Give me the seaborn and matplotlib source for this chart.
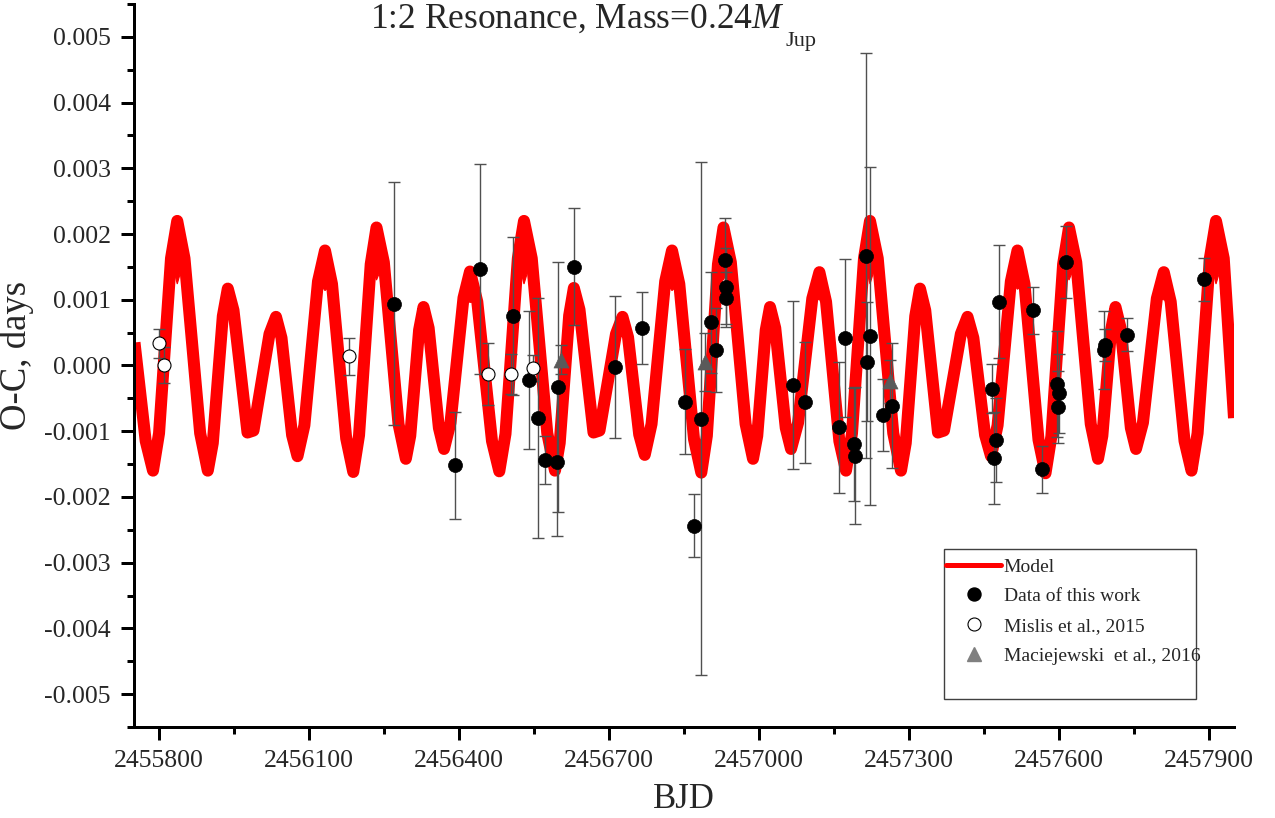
import matplotlib
matplotlib.use("Agg")
import matplotlib.pyplot as plt
import seaborn as sns
import pandas as pd
from matplotlib.lines import Line2D
from matplotlib.patches import Rectangle
from matplotlib.ticker import MultipleLocator, FuncFormatter

# ---- TTV model (BJD, O-C in days) ----
model_bjd = [
    2455751, 2455773.4, 2455788, 2455800.1, 2455824, 2455836.5, 2455851,
    2455882.3, 2455897.6, 2455907.6, 2455927.6, 2455937.6, 2455949,
    2455977, 2455989, 2456021, 2456034, 2456045,
    2456066.2, 2456077, 2456090.8, 2456118, 2456132, 2456146,
    2456174.4, 2456188.5, 2456200.1, 2456223.4, 2456235, 2456249.7,
    2456279, 2456293.7, 2456302.5, 2456320.2, 2456329, 2456339.3,
    2456359.8, 2456370, 2456383, 2456409, 2456422, 2456436.6,
    2456466, 2456480.6, 2456493, 2456517.7, 2456530, 2456545.5,
    2456576.5, 2456592, 2456601.4, 2456620.3, 2456629.7, 2456641,
    2456669, 2456681, 2456714, 2456727, 2456738.1,
    2456760.4, 2456771.5, 2456785.1, 2456812.4, 2456826, 2456840.6,
    2456870, 2456884.6, 2456895.7, 2456917.9, 2456929, 2456943.7,
    2456973.2, 2456988, 2456996.5, 2457013.5, 2457022, 2457032.5,
    2457053.5, 2457064, 2457078.2, 2457106.6, 2457120.8, 2457134.1,
    2457160.7, 2457174, 2457186, 2457210, 2457222, 2457237.5,
    2457268.5, 2457284, 2457293.5, 2457312.5, 2457322, 2457332.5,
    2457358, 2457370, 2457403.7, 2457417, 2457428.7,
    2457452.2, 2457464, 2457477.2, 2457503.7, 2457517, 2457531,
    2457559, 2457573, 2457584.7, 2457608.2, 2457620, 2457634.5,
    2457663.5, 2457678, 2457686.7, 2457704.2, 2457713, 2457723.2,
    2457743.7, 2457754, 2457767.9, 2457795.7, 2457809.6, 2457823.4,
    2457851.1, 2457865, 2457877.2, 2457901.7, 2457914, 2457929.5,
    2457950]
model_oc = [
    0.00035, -0.00115, -0.00160, -0.00103, 0.00163, 0.00220, 0.00163,
    -0.00103, -0.00160, -0.00118, 0.00075, 0.00117, 0.00084,
    -0.00102, -0.00099, 0.00048, 0.00074, 0.00042,
    -0.00106, -0.00138, -0.00091, 0.00128, 0.00175, 0.00124,
    -0.00111, -0.00162, -0.00106, 0.00154, 0.00210, 0.00157,
    -0.00089, -0.00142, -0.00107, 0.00054, 0.00089, 0.00057,
    -0.00095, -0.00127, -0.00087, 0.00103, 0.00143, 0.00097,
    -0.00115, -0.00161, -0.00104, 0.00163, 0.00220, 0.00163,
    -0.00103, -0.00160, -0.00118, 0.00076, 0.00118, 0.00085,
    -0.00102, -0.00099, 0.00048, 0.00074, 0.00043,
    -0.00105, -0.00136, -0.00089, 0.00128, 0.00175, 0.00124,
    -0.00112, -0.00163, -0.00107, 0.00154, 0.00210, 0.00157,
    -0.00089, -0.00142, -0.00107, 0.00054, 0.00089, 0.00057,
    -0.00095, -0.00127, -0.00087, 0.00102, 0.00142, 0.00097,
    -0.00115, -0.00160, -0.00103, 0.00163, 0.00220, 0.00163,
    -0.00103, -0.00160, -0.00118, 0.00075, 0.00117, 0.00084,
    -0.00102, -0.00099, 0.00048, 0.00074, 0.00042,
    -0.00106, -0.00138, -0.00091, 0.00128, 0.00175, 0.00124,
    -0.00113, -0.00164, -0.00108, 0.00154, 0.00210, 0.00157,
    -0.00089, -0.00142, -0.00107, 0.00054, 0.00089, 0.00057,
    -0.00095, -0.00127, -0.00087, 0.00102, 0.00142, 0.00097,
    -0.00115, -0.00160, -0.00103, 0.00163, 0.00220, 0.00163,
    -0.00080]

# inner edge of the model band under the high maxima (BJD of maximum, O-C)
notch_bjd = [2455836.5, 2456132, 2456235, 2456422, 2456530, 2456826,
             2456929, 2457120.8, 2457222, 2457517, 2457620, 2457809.6,
             2457914]
notch_oc = [0.00124, 0.00114, 0.00130, 0.00096, 0.00124, 0.00114,
            0.00130, 0.00100, 0.00124, 0.00116, 0.00130, 0.00100,
            0.00124]

# ---- Data of this work ----
own_bjd = [2456269, 2456391, 2456442, 2456508, 2456540, 2456558, 2456572,
           2456596, 2456598, 2456630, 2456712, 2456765, 2456851, 2456869,
           2456883, 2456903, 2456913, 2456931, 2456933, 2456934, 2457068,
           2457091, 2457159, 2457171, 2457189, 2457191, 2457213, 2457216,
           2457221, 2457247, 2457266, 2457465, 2457469, 2457474, 2457479,
           2457548, 2457565, 2457595, 2457597, 2457600, 2457613, 2457690,
           2457692, 2457735, 2457889]
own_oc = [0.00094, -0.00152, 0.00147, 0.00075, -0.00022, -0.00080, -0.00144,
          -0.00147, -0.00033, 0.00150, -0.00002, 0.00057, -0.00055, -0.00244,
          -0.00081, 0.00066, 0.00023, 0.00161, 0.00119, 0.00103, -0.00030,
          -0.00056, -0.00094, 0.00042, -0.00120, -0.00137, 0.00167, 0.00006,
          0.00045, -0.00075, -0.00061, -0.00035, -0.00140, -0.00113, 0.00097,
          0.00084, -0.00158, -0.00028, -0.00063, -0.00042, 0.00157, 0.00024,
          0.00031, 0.00047, 0.00131]
own_err = [0.00185, 0.00081, 0.00160, 0.00120, 0.00105, 0.00183, 0.00036,
           0.00113, 0.00190, 0.00089, 0.00108, 0.00055, 0.00080, 0.00048,
           0.00390, 0.00077, 0.00064, 0.00063, 0.00060, 0.00040, 0.00128,
           0.00092, 0.00100, 0.00120, 0.00086, 0.00104, 0.00308, 0.00090,
           0.00257, 0.00055, 0.00095, 0.00037, 0.00070, 0.00064, 0.00086,
           0.00036, 0.00036, 0.00081, 0.00055, 0.00060, 0.00055, 0.00059,
           0.00024, 0.00025, 0.00033]

# ---- Mislis et al., 2015 ----
mislis_bjd = [2455799, 2455809, 2456180, 2456457, 2456504, 2456548]
mislis_oc = [0.00034, 0.00001, 0.00014, -0.00013, -0.00013, -0.00004]
mislis_err = [0.00022, 0.00027, 0.00028, 0.00047, 0.00030, 0.00020]

# ---- Maciejewski et al., 2016 ----
mac_bjd = [2456604, 2456891, 2457261]
mac_oc = [0.00009, 0.00005, -0.00024]
mac_err = [0.00022, 0.00044, 0.00033]

x_ticks_step = 300
title_main = r"1:2 Resonance, Mass=0.24$M$"
title_sub = "Jup"
legend_labels = ["Model", "Data of this work", "Mislis et al., 2015",
                 "Maciejewski  et al., 2016"]

sns.set_style("ticks")
plt.rcParams["font.family"] = ["Liberation Serif", "DejaVu Serif"]
plt.rcParams["mathtext.fontset"] = "custom"
plt.rcParams["mathtext.rm"] = "Liberation Serif"
plt.rcParams["mathtext.it"] = "Liberation Serif:italic"
plt.rcParams["axes.unicode_minus"] = False

PX = 72 / 100  # points per pixel
W, H = 1275, 818
RED = "#ff0000"

fig = plt.figure(figsize=(W / 100, H / 100), dpi=100)
ax = fig.add_axes([134 / W, 1 - 727 / H, 1100 / W, 723 / H])

model = pd.DataFrame({"bjd": model_bjd, "oc": model_oc})
sns.lineplot(data=model, x="bjd", y="oc", sort=False, estimator=None,
             color=RED, linewidth=12 * PX, ax=ax, zorder=1,
             solid_joinstyle="round", solid_capstyle="butt")

# the band thickens under the high maxima
for xb, vn in zip(notch_bjd, notch_oc):
    i = model_bjd.index(xb)
    xs = [model_bjd[i - 1], model_bjd[i], model_bjd[i + 1], xb]
    ys = [model_oc[i - 1], model_oc[i], model_oc[i + 1], vn]
    ax.fill(xs, ys, color=RED, linewidth=0.8, edgecolor=RED, zorder=1)

err_kw = dict(fmt="none", ecolor="#505050", elinewidth=1.0, capsize=6 * PX,
              capthick=1.0, zorder=2)
ax.errorbar(own_bjd, own_oc, yerr=own_err, **err_kw)
ax.errorbar(mislis_bjd, mislis_oc, yerr=mislis_err, **err_kw)
ax.errorbar(mac_bjd, mac_oc, yerr=mac_err, **err_kw)

sns.scatterplot(x=own_bjd, y=own_oc, ax=ax, marker="o", s=(14 * PX) ** 2,
                color="black", edgecolor="black", linewidth=0.5, zorder=4)
sns.scatterplot(x=mislis_bjd, y=mislis_oc, ax=ax, marker="o",
                s=(13 * PX) ** 2, color="white", edgecolor="black",
                linewidth=0.8, zorder=4)
sns.scatterplot(x=mac_bjd, y=mac_oc, ax=ax, marker="^", s=(15 * PX) ** 2,
                color="#5a5a5a", edgecolor="#5a5a5a", linewidth=0.5, zorder=4)

ax.set_xlim(2455750, 2457950)
ax.set_ylim(-0.0055, 0.0055)
ax.xaxis.set_major_locator(MultipleLocator(x_ticks_step))
ax.xaxis.set_minor_locator(MultipleLocator(x_ticks_step / 2))
ax.yaxis.set_major_locator(MultipleLocator(0.001))
ax.yaxis.set_minor_locator(MultipleLocator(0.0005))
ax.xaxis.set_major_formatter(FuncFormatter(lambda v, _: f"{int(round(v))}"))
ax.yaxis.set_major_formatter(
    FuncFormatter(lambda v, _: "0.000" if abs(v) < 1e-9 else f"{v:.3f}"))

for side in ("top", "right"):
    ax.spines[side].set_visible(False)
for side in ("left", "bottom"):
    ax.spines[side].set_linewidth(3 * PX)
    ax.spines[side].set_color("black")

ax.tick_params(which="major", direction="out", length=13.5 * PX,
               width=3 * PX, labelsize=18.5, pad=7, color="black")
ax.tick_params(which="minor", direction="out", length=7 * PX, width=3 * PX,
               color="black")

ax.set_xlabel("BJD", fontsize=25)
ax.set_ylabel("O-C, days", fontsize=26.5)
ax.xaxis.set_label_coords(0.5, (727 - 783) / 723)
ax.yaxis.set_label_coords((34 - 134) / 1100, (727 - 355) / 723)

# title with a hand-placed subscript
t_main = fig.text(370 / W, 1 - 28 / H, title_main, fontsize=25.5,
                  va="baseline", ha="left")
fig.canvas.draw()
bb = t_main.get_window_extent(renderer=fig.canvas.get_renderer())
fig.text((bb.x1 + 1) / W, 1 - 46 / H, title_sub, fontsize=16,
         va="baseline", ha="left")

# legend box and entries
fig.add_artist(Rectangle((944 / W, 1 - 699 / H), 252 / W, 150 / H,
                         transform=fig.transFigure, fill=False,
                         edgecolor="#404040", linewidth=1.0))
handles = [
    Line2D([], [], color=RED, linewidth=5 * PX),
    Line2D([], [], linestyle="none", marker="o", markersize=13 * PX,
           markerfacecolor="black", markeredgecolor="black"),
    Line2D([], [], linestyle="none", marker="o", markersize=13 * PX,
           markerfacecolor="white", markeredgecolor="black",
           markeredgewidth=0.8),
    Line2D([], [], linestyle="none", marker="^", markersize=14 * PX,
           markerfacecolor="#808080", markeredgecolor="#808080"),
]
fig.legend(handles, legend_labels, loc="upper left",
           bbox_to_anchor=(946 / W, 1 - 558 / H), frameon=False,
           fontsize=14, handlelength=2.85, handletextpad=0.12,
           borderpad=0, borderaxespad=0, labelspacing=0.62)

fig.savefig("out.png", dpi=100)
